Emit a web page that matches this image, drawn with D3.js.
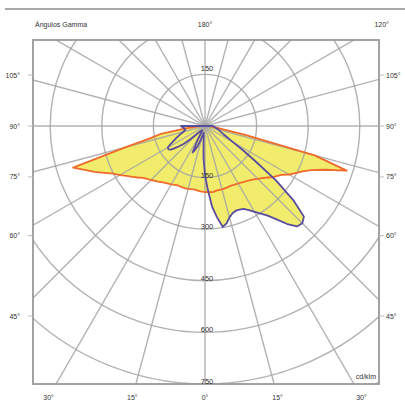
<!DOCTYPE html>
<html>
<head>
<meta charset="utf-8">
<script src="https://cdn.jsdelivr.net/npm/d3@7"></script>
<style>
  body { margin: 0; background: #fff; }
  text { font-family: "Liberation Sans", Arial, sans-serif; fill: #333; }
</style>
</head>
<body>
<div id="chart"></div>
<script>
// gamma angles (deg from nadir) shared by all half-planes
const gammas = [0, 2.5, 5, 7.5, 10, 12.5, 15, 17.5, 20, 22.5, 25, 27.5, 30, 32.5, 35, 37.5, 40, 42.5, 45,
  47.5, 50, 52.5, 55, 57.5, 60, 62.5, 65, 67.5, 70, 72.5, 75, 77.5, 80, 82.5, 85, 87.5, 90];

// C0-C180 plane (orange outline)
const c0 = [192, 192, 193, 193, 191, 190, 191, 190, 190, 189, 190, 191, 193, 195, 198, 201, 205, 210, 217,
  224, 233, 245, 254, 264, 282, 296, 312, 335, 372, 432, 330, 120, 45, 30, 20, 15, 10];
const c180 = [192, 191, 190, 188, 187, 188, 189, 190, 190, 190, 190, 193, 196, 199, 202, 206, 211, 216, 222,
  228, 235, 246, 258, 270, 285, 300, 322, 348, 372, 402, 240, 160, 130, 60, 30, 20, 15];

// C90-C270 plane (purple outline)
const c90 = [142, 185, 235, 268, 298, 290, 275, 266, 262, 263, 266, 276, 288, 302, 318, 342, 372, 396, 400,
  390, 335, 260, 180, 130, 95, 76, 62, 54, 48, 44, 40, 36, 32, 30, 28, 25, 22];
const c270 = [142, 95, 50, 30, 20, 22, 30, 45, 60, 75, 85, 50, 20, 15, 15, 17, 20, 24, 30,
  55, 80, 100, 120, 126, 125, 112, 100, 90, 80, 72, 65, 60, 58, 60, 62, 66, 70];

const rings = [150, 300, 450, 600, 750, 900];
const ringLabels = [150, 300, 450, 600, 750];
const spokes = d3.range(0, 360, 15);
const sideLabels = [105, 90, 75, 60, 45];
const bottomLabels = [-30, -15, 0, 15, 30];

const width = 405, height = 402;
const cx = 205, cy = 126;
const frame = { x0: 33, y0: 40, x1: 379, y1: 384 };

const svg = d3.select("#chart").append("svg")
  .attr("width", width)
  .attr("height", height);

const r = d3.scaleLinear().domain([0, 750]).range([0, 258]);
const rad = d => d * Math.PI / 180;

svg.append("defs").append("clipPath").attr("id", "frameClip")
  .append("rect")
  .attr("x", frame.x0).attr("y", frame.y0)
  .attr("width", frame.x1 - frame.x0).attr("height", frame.y1 - frame.y0);

// top rule
svg.append("line")
  .attr("x1", 5).attr("x2", 405).attr("y1", 9).attr("y2", 9)
  .attr("stroke", "#8c8c8c").attr("stroke-width", 1.5);

const plot = svg.append("g").attr("clip-path", "url(#frameClip)");
const g = plot.append("g").attr("transform", `translate(${cx},${cy})`);

// build closed polar outline: left half (C180/C270) from 90 down to 0, right half 0 to 90
function planePoints(right, left) {
  const pts = [];
  for (let i = gammas.length - 1; i >= 0; i--) pts.push([rad(180 + gammas[i]), r(left[i])]);
  for (let i = 0; i < gammas.length; i++) pts.push([rad(180 - gammas[i]), r(right[i])]);
  return pts;
}
const radial = d3.lineRadial().angle(d => d[0]).radius(d => d[1]).curve(d3.curveLinearClosed);

const curves = [
  { pts: planePoints(c0, c180), stroke: "#f06a2c" },
  { pts: planePoints(c90, c270), stroke: "#5a4c9c" }
];

// fills
g.selectAll(".fill")
  .data(curves)
  .join("path")
  .attr("class", "fill")
  .attr("d", d => radial(d.pts))
  .attr("fill", "#f1ec6c")
  .attr("stroke", "none");

// grid
g.selectAll(".ring")
  .data(rings)
  .join("circle")
  .attr("class", "ring")
  .attr("r", d => r(d))
  .attr("fill", "none")
  .attr("stroke", "#a4a4a4")
  .attr("stroke-opacity", 0.85)
  .attr("stroke-width", 1.4);

g.selectAll(".spoke")
  .data(spokes)
  .join("line")
  .attr("class", "spoke")
  .attr("x1", 0).attr("y1", 0)
  .attr("x2", d => Math.sin(rad(d)) * 600)
  .attr("y2", d => Math.cos(rad(d)) * 600)
  .attr("stroke", "#a4a4a4")
  .attr("stroke-opacity", 0.85)
  .attr("stroke-width", 1.4);

// outlines
g.selectAll(".outline")
  .data(curves)
  .join("path")
  .attr("class", "outline")
  .attr("d", d => radial(d.pts))
  .attr("fill", "none")
  .attr("stroke", d => d.stroke)
  .attr("stroke-width", 1.8)
  .attr("stroke-linejoin", "round");

// frame
svg.append("rect")
  .attr("x", frame.x0).attr("y", frame.y0)
  .attr("width", frame.x1 - frame.x0).attr("height", frame.y1 - frame.y0)
  .attr("fill", "none")
  .attr("stroke", "#999")
  .attr("stroke-width", 1.8);

// ring values
svg.selectAll(".ringLabel")
  .data(ringLabels)
  .join("text")
  .attr("class", "ringLabel")
  .attr("x", cx + 2)
  .attr("y", d => cy + r(d))
  .attr("text-anchor", "middle")
  .attr("font-size", 7.5)
  .text(d => d);

svg.append("text")
  .attr("x", cx + 2)
  .attr("y", cy - r(150) - 3)
  .attr("text-anchor", "middle")
  .attr("font-size", 7.5)
  .text(150);

// gamma labels: rays projected to the label box
const halfW = 190, bottomD = 271, topD = 102;
function labelPos(a) {
  const dx = Math.sin(rad(a)), dy = Math.cos(rad(a));
  const tx = Math.abs(dx) > 1e-6 ? halfW / Math.abs(dx) : Infinity;
  const ty = dy > 0 ? bottomD / dy : (dy < 0 ? topD / -dy : Infinity);
  const t = Math.min(tx, ty);
  return [cx + dx * t, cy + dy * t];
}

sideLabels.forEach(a => {
  const [, y] = labelPos(a);
  svg.append("text").attr("x", cx - 185).attr("y", y + 2.5)
    .attr("text-anchor", "end").attr("font-size", 7).text(a + "°");
  svg.append("text").attr("x", cx + 181).attr("y", y + 2.5)
    .attr("text-anchor", "start").attr("font-size", 7).text(a + "°");
  svg.append("line").attr("x1", frame.x0 - 5).attr("x2", frame.x0).attr("y1", y).attr("y2", y)
    .attr("stroke", "#bbb");
  svg.append("line").attr("x1", frame.x1).attr("x2", frame.x1 + 5).attr("y1", y).attr("y2", y)
    .attr("stroke", "#bbb");
});

bottomLabels.forEach(a => {
  const [x, y] = labelPos(a);
  svg.append("text").attr("x", x).attr("y", y + 2.5)
    .attr("text-anchor", "middle").attr("font-size", 7).text(Math.abs(a) + "°");
});

const [x180, y180] = labelPos(180);
svg.append("text").attr("x", x180).attr("y", y180 + 2.5)
  .attr("text-anchor", "middle").attr("font-size", 7).text("180°");
const [x120, y120] = labelPos(120);
svg.append("text").attr("x", x120).attr("y", y120 + 2.5)
  .attr("text-anchor", "middle").attr("font-size", 7).text("120°");
svg.append("text").attr("x", 35).attr("y", y180 + 2.5)
  .attr("font-size", 7).text("Ángulos Gamma");

svg.append("text").attr("x", frame.x1 - 3).attr("y", frame.y1 - 5)
  .attr("text-anchor", "end").attr("font-size", 7).text("cd/klm");
</script>
</body>
</html>
